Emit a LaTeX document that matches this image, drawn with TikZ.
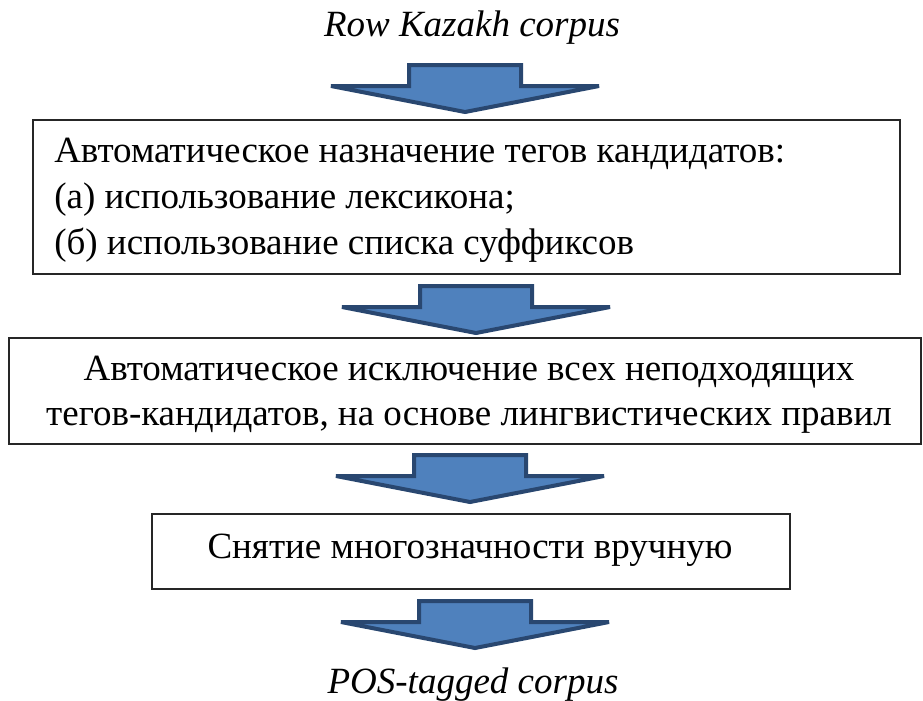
\documentclass[tikz,border=0pt]{standalone}
\usepackage{fontspec}
\setmainfont{Liberation Serif}
\definecolor{arrfill}{HTML}{4F81BD}
\definecolor{arrline}{HTML}{294770}
\tikzset{
  box/.style={draw=black!85, line width=1pt, inner sep=0pt},
  txt/.style={inner sep=0pt, font=\fontsize{27.75pt}{34pt}\selectfont},
  blockarrow/.style={fill=arrfill, draw=arrline, line width=3pt, line join=miter}
}
\newcommand\drawblockarrow[2]{% center x, top y
  \filldraw[blockarrow] ({#1-56},{#2+2}) -- ({#1+56},{#2+2}) -- ({#1+56},{#2+23}) -- ({#1+134},{#2+23})
    -- ({#1},{#2+49}) -- ({#1-134},{#2+23}) -- ({#1-56},{#2+23}) -- cycle;}
\begin{document}
\begin{tikzpicture}[x=0.75pt,y=-0.75pt]
\useasboundingbox (0,0) rectangle (923,700);
% title
\node[txt, anchor=base, font=\fontsize{27.75pt}{34pt}\selectfont\itshape] (title) at (472,36) {Row Kazakh corpus};
% box 1
\node[box, minimum width={867*0.75pt}, minimum height={154*0.75pt}] (b1) at (466.5,197) {};
\node[txt, anchor=base west] (t1a) at (54,162) {Автоматическое назначение тегов кандидатов:};
\node[txt, anchor=base west] (t1b) at (54,208) {(а) использование лексикона;};
\node[txt, anchor=base west] (t1c) at (54,254) {(б) использование списка суффиксов};
% box 2
\node[box, minimum width={912*0.75pt}, minimum height={106*0.75pt}] (b2) at (465,391) {};
\node[txt, anchor=base] (t2a) at (469,380) {Автоматическое исключение всех неподходящих};
\node[txt, anchor=base] (t2b) at (469,425) {тегов-кандидатов, на основе лингвистических правил};
% box 3
\node[box, minimum width={638*0.75pt}, minimum height={75*0.75pt}] (b3) at (471,551.5) {};
\node[txt, anchor=base] (t3) at (470,558) {Снятие многозначности вручную};
% bottom label
\node[txt, anchor=base, font=\fontsize{27.75pt}{34pt}\selectfont\itshape] (out) at (473,693) {POS-tagged corpus};
% block arrows
\drawblockarrow{465}{63}
\drawblockarrow{476}{284}
\drawblockarrow{470}{453}
\drawblockarrow{475}{599}
\end{tikzpicture}
\end{document}
